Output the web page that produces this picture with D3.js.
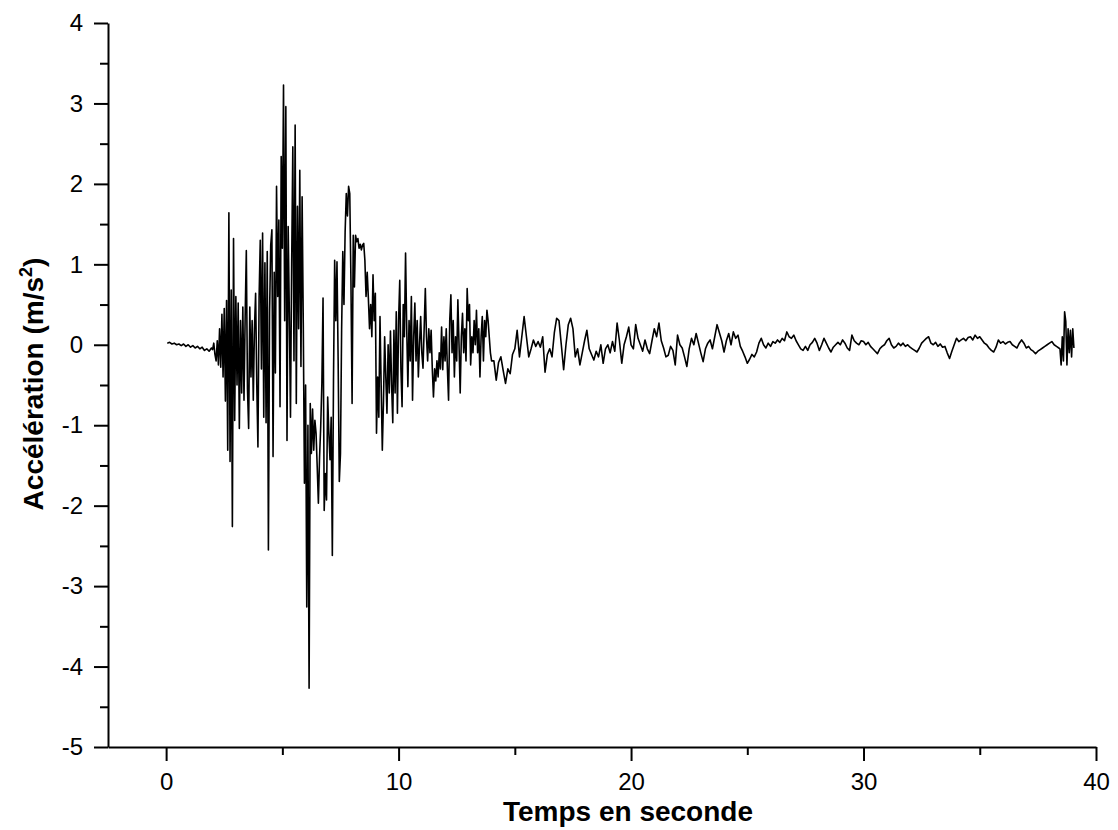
<!DOCTYPE html>
<html>
<head>
<meta charset="utf-8">
<script src="https://cdn.jsdelivr.net/npm/d3@7"></script>
<style>
  body { margin: 0; background: #fff; }
  svg { display: block; font-family: Arial, "Liberation Sans", sans-serif; }
</style>
</head>
<body>
<div id="chart"></div>
<script>
// accelerogram
// each segment is a regularly sampled piece of the record: start time (s), step (s), values (m/s2)

var preEventStart = 0.05, preEventStep = 0.1;
var preEvent = [
  0.02, 0.03, 0.01, 0.02, 0.0, 0.01, -0.01, 0.01, -0.02, 0.0,
  -0.03, -0.01, -0.04, -0.02, -0.05, -0.03, -0.07, -0.05, -0.08, -0.04
];

var strongStart = 2.0, strongStep = 0.05;
var strongMotion = [
  -0.06, 0.02, -0.12, -0.2, 0.05, -0.25, 0.2, -0.28, 0.38, -0.4,      // 2.0
  0.45, -0.7, 0.55, -1.31, 1.64, -1.45, 0.68, -2.26, 1.32, -0.94,     // 2.5
  0.6, -0.5, 0.52, -1.04, 0.3, -0.6, 0.47, -0.69, 0.35, 1.17,         // 3.0
  -0.55, -1.04, 0.47, -0.4, 0.3, -0.69, 0.2, 0.64, -0.5, -1.27,       // 3.5
  0.6, 1.30, -0.3, 1.39, -0.9, 1.02, -0.97, 1.16, -2.55, 0.4,         // 4.0
  1.24, 1.43, -1.39, 0.9, -0.35, 1.97, 0.6, 1.55, -0.77, 2.34,        // 4.5
  1.2, 3.23, 0.3, 2.96, -1.19, 1.47, 0.4, -0.9, 1.0, 2.46,            // 5.0
  -0.2, 2.73, -0.73, 1.72, 0.2, 2.17, -0.27, 1.84, 0.27, -1.72,       // 5.5
  -0.5, -3.26, -1.0, -4.27, -0.73, -1.35, -0.8, -1.31, -0.94, -1.1,   // 6.0
  -1.52, -1.97, -1.4, -1.02, -0.48, 0.58, -2.06, -1.6, -1.93, -0.65,  // 6.5
  -1.1, -1.43, -0.9, -2.62, -0.44, 1.05, 0.3, 1.03, -0.2, -1.7,       // 7.0
  -1.35, 0.2, 1.16, 0.5, 1.4, 1.88, 1.6, 1.97, 1.88, 0.8,             // 7.5
  -0.73, 1.36, 0.72, 1.36, 1.28, 1.32, 1.2, 1.25, 1.18, 1.24,         // 8.0
  1.26, 1.05, 0.6, 0.9, 0.58, 0.2, 0.5, 0.1, 0.87, 0.3,               // 8.5
  0.64, -1.1, -0.4, -0.9, 0.35, -0.5, -1.31, -0.7, 0.1, -0.4,         // 9.0
  -0.85, 0.0, -0.6, 0.17, -0.5, -0.97, 0.18, -0.6, 0.41, -0.85,       // 9.5
  0.3, 0.8, -0.3, -0.77, 0.5, 0.1, 1.14, 0.2, -0.52, 0.3,             // 10.0
  -0.2, 0.6, -0.69, 0.1, 0.52, -0.2, 0.3, -0.4, 0.0, 0.35,            // 10.5
  -0.1, -0.29, 0.2, 0.7, 0.1, -0.2, 0.2, -0.1, 0.18, -0.3,            // 11.0
  -0.65, -0.3, -0.45, -0.2, -0.4, -0.1, -0.3, 0.22, -0.31, 0.1,       // 11.5
  -0.2, 0.2, -0.3, -0.69, 0.3, 0.62, -0.1, 0.3, -0.4, 0.1,            // 12.0
  -0.2, 0.56, 0.0, -0.6, 0.1, 0.39, -0.1, 0.2, -0.2, 0.7,             // 12.5
  0.3, 0.5, -0.25, 0.1, -0.1, 0.3, 0.0, 0.43, -0.1, 0.2,              // 13.0
  -0.4, 0.1, 0.35, -0.2, 0.3, 0.1, 0.43, 0.3, 0.1, -0.1,              // 13.5
  -0.2                                                                // 14.0
];

var codaStart = 14.1, codaStep = 0.1;
var coda = [
  -0.2, -0.44, -0.22, -0.15, -0.32, -0.48, -0.3, -0.36, -0.12, -0.05,  // 14.1
  0.18, -0.15, 0.1, 0.35, 0.1, -0.15, -0.05, 0.06, -0.02, 0.04,        // 15.1
  -0.03, 0.1, -0.34, -0.12, -0.05, -0.15, 0.15, 0.33, 0.3, 0.0,        // 16.1
  -0.31, 0.0, 0.25, 0.33, 0.2, -0.15, -0.05, -0.25, -0.1, 0.05,        // 17.1
  0.18, -0.05, -0.12, -0.19, -0.08, -0.15, 0.0, -0.23, -0.05, 0.0,     // 18.1
  -0.1, 0.04, -0.08, 0.27, 0.05, -0.23, 0.0, 0.1, 0.22, 0.0,           // 19.1
  -0.05, 0.25, 0.08, 0.0, -0.08, 0.06, -0.05, -0.11, 0.05, 0.2,        // 20.1
  0.1, 0.27, 0.05, -0.04, -0.15, -0.13, -0.02, -0.07, -0.25, 0.12,     // 21.1
  0.0, -0.04, -0.15, -0.27, -0.05, 0.08, 0.0, 0.14, 0.02, -0.1,        // 22.1
  -0.21, -0.05, 0.02, 0.06, -0.05, 0.1, 0.25, 0.15, 0.05, -0.09,       // 23.1
  0.05, 0.14, 0.0, 0.16, 0.08, 0.12, -0.02, -0.08, -0.15, -0.23,       // 24.1
  -0.18, -0.12, -0.15, -0.09, 0.02, 0.08, 0.0, -0.04, 0.02, -0.02,     // 25.1
  0.04, 0.02, 0.06, 0.03, 0.08, 0.05, 0.16, 0.1, 0.08, 0.12,           // 26.1
  0.05, 0.0, -0.05, -0.07, -0.02, -0.07, 0.0, 0.03, 0.08, 0.02,        // 27.1
  -0.07, 0.0, 0.08, 0.02, -0.04, -0.09, -0.03, 0.0, 0.03, 0.0,         // 28.1
  0.06, 0.02, -0.04, -0.07, 0.12, 0.05, 0.02, 0.0, 0.05, 0.04,         // 29.1
  0.0, 0.03, -0.02, -0.05, -0.08, -0.11, -0.05, -0.02, 0.0, 0.05,      // 30.1
  0.08, 0.0, -0.04, -0.02, 0.02, -0.01, 0.02, -0.02, 0.0, -0.03,       // 31.1
  -0.05, -0.07, -0.09, -0.04, 0.02, 0.05, 0.08, 0.1, 0.02, 0.0,        // 32.1
  0.03, -0.02, 0.01, -0.03, -0.02, -0.1, -0.17, -0.08, 0.0, 0.08,      // 33.1
  0.04, 0.06, 0.08, 0.05, 0.09, 0.1, 0.06, 0.12, 0.08, 0.1,            // 34.1
  0.06, 0.02, 0.0, -0.04, -0.07, -0.09, -0.03, 0.06, 0.02, 0.04,       // 35.1
  0.01, 0.03, 0.04, 0.0, -0.02, -0.04, 0.02, 0.06, 0.02, -0.04,        // 36.1
  -0.02, -0.06, -0.08, -0.11, -0.08, -0.06, -0.04, -0.02, 0.0, 0.02,   // 37.1
  0.04, 0.0, -0.02, -0.04                                              // 38.1
];

var tailStart = 38.45, tailStep = 0.05;
var tail = [-0.05, -0.25, 0.1, -0.2, 0.41, 0.29, -0.25, 0.2, -0.1, 0.18, -0.15, 0.2, -0.04];

var xMajorTicks = [0, 10, 20, 30, 40];
var xMinorTicks = [5, 15, 25, 35];
var yMajorTicks = [-5, -4, -3, -2, -1, 0, 1, 2, 3, 4];
var yMinorTicks = [-4.5, -3.5, -2.5, -1.5, -0.5, 0.5, 1.5, 2.5, 3.5];

var xTitle = "Temps en seconde";
var yTitle = "Accélération (m/s";

var WIDTH = 1118, HEIGHT = 830;

function sampled(start, step, values) {
	return values.map(function(a, i) { return {t: start + i * step, a: a}; });
}

var record = [].concat(
	sampled(preEventStart, preEventStep, preEvent),
	sampled(strongStart, strongStep, strongMotion),
	sampled(codaStart, codaStep, coda),
	sampled(tailStart, tailStep, tail)
);

var svg = d3.select("#chart").append("svg")
	.attr("width", WIDTH)
	.attr("height", HEIGHT);

var x = d3.scaleLinear().domain([-2.5, 40]).range([108, 1096]);
var y = d3.scaleLinear().domain([-5, 4]).range([747, 23]);

// plain hyphen for negatives, like the original
var plain = function(d) { return String(d); };

// the trace
var line = d3.line()
	.x(function(d) { return x(d.t); })
	.y(function(d) { return y(d.a); });

svg.append("path")
	.datum(record)
	.attr("fill", "none")
	.attr("stroke", "#000")
	.attr("stroke-width", 1.6)
	.attr("stroke-linejoin", "round")
	.attr("d", line);

// axes, major then minor ticks
function styleAxis(g) {
	g.selectAll("path").attr("stroke", "#000").attr("stroke-width", 2);
	g.selectAll("line").attr("stroke", "#000").attr("stroke-width", 2);
	g.selectAll("text").attr("fill", "#000").style("font-size", "24px")
		.style("font-family", "Arial, 'Liberation Sans', sans-serif");
}

svg.append("g")
	.attr("transform", "translate(0," + y(-5) + ")")
	.call(d3.axisBottom(x).tickValues(xMajorTicks).tickFormat(plain).tickSize(14).tickSizeOuter(0).tickPadding(12))
	.call(styleAxis);

svg.append("g")
	.attr("transform", "translate(0," + y(-5) + ")")
	.call(d3.axisBottom(x).tickValues(xMinorTicks).tickSize(8).tickFormat(""))
	.call(styleAxis)
	.select(".domain").remove();

svg.append("g")
	.attr("transform", "translate(" + x(-2.5) + ",0)")
	.call(d3.axisLeft(y).tickValues(yMajorTicks).tickFormat(plain).tickSize(14).tickSizeOuter(0).tickPadding(11))
	.call(styleAxis);

svg.append("g")
	.attr("transform", "translate(" + x(-2.5) + ",0)")
	.call(d3.axisLeft(y).tickValues(yMinorTicks).tickSize(8).tickFormat(""))
	.call(styleAxis)
	.select(".domain").remove();

// axis titles
svg.append("text")
	.attr("x", 628)
	.attr("y", 821)
	.attr("text-anchor", "middle")
	.style("font-size", "28px")
	.style("font-weight", "bold")
	.text(xTitle);

var yt = svg.append("text")
	.attr("transform", "translate(43,384) rotate(-90)")
	.attr("text-anchor", "middle")
	.style("font-size", "28px")
	.style("font-weight", "bold");
yt.append("tspan").text(yTitle);
yt.append("tspan").attr("dy", -11).style("font-size", "18px").text("2");
yt.append("tspan").attr("dy", 11).text(")");
</script>
</body>
</html>
